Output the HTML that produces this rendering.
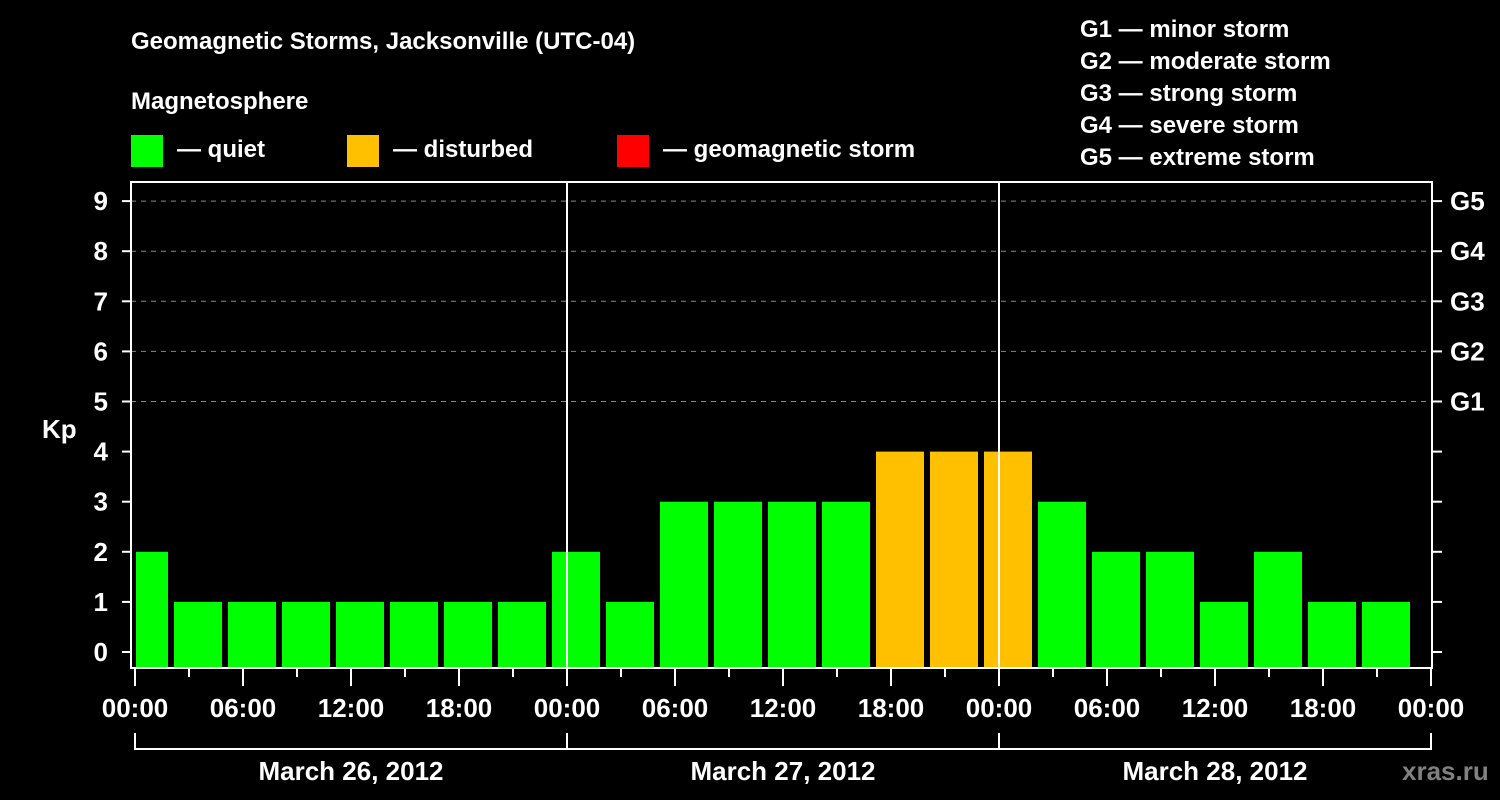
<!DOCTYPE html>
<html><head><meta charset="utf-8"><style>
html,body{margin:0;padding:0;background:#000;width:1500px;height:800px;overflow:hidden}
svg{display:block;font-family:"Liberation Sans",sans-serif;font-weight:bold}
</style></head><body>
<svg id="chart" width="1500" height="800" viewBox="0 0 1500 800">
<rect x="0" y="0" width="1500" height="800" fill="#000"/>
<text x="131" y="49" fill="#fff" font-size="24">Geomagnetic Storms, Jacksonville (UTC-04)</text>
<text x="131" y="109" fill="#fff" font-size="24">Magnetosphere</text>
<g><rect x="131" y="135" width="32" height="32" fill="#00ff00"/><text x="177" y="157" fill="#fff" font-size="24">— quiet</text></g>
<g><rect x="347" y="135" width="32" height="32" fill="#ffc000"/><text x="393" y="157" fill="#fff" font-size="24">— disturbed</text></g>
<g><rect x="617" y="135" width="32" height="32" fill="#ff0000"/><text x="663" y="157" fill="#fff" font-size="24">— geomagnetic storm</text></g>
<g fill="#fff" font-size="24">
<text x="1080" y="37">G1 — minor storm</text>
<text x="1080" y="69">G2 — moderate storm</text>
<text x="1080" y="101">G3 — strong storm</text>
<text x="1080" y="133">G4 — severe storm</text>
<text x="1080" y="165">G5 — extreme storm</text>
</g>
<text x="42" y="438" fill="#fff" font-size="26">Kp</text>
<text x="1402" y="780" fill="#808080" font-size="26">xras.ru</text>
<g id="grid"></g><g id="bars"></g><g id="axes"></g>
</svg>
<script>
const kpValues = [2,1,1,1,1,1,1,1,2,1,3,3,3,3,4,4,4,3,2,2,1,2,1,1];
const yTicks = [0,1,2,3,4,5,6,7,8,9];
const gLabels = ["G1","G2","G3","G4","G5"];
const xTickLabels = ["00:00","06:00","12:00","18:00","00:00","06:00","12:00","18:00","00:00","06:00","12:00","18:00","00:00"];
const dayLabels = ["March 26, 2012","March 27, 2012","March 28, 2012"];
const barStartHourOffset = -1;

const NS="http://www.w3.org/2000/svg";
const L=131,R=1432,T=182,B=668,X0=135,PXH=18;
const xS=h=>X0+h*PXH;
const yS=v=>652-v*50.1;
function mk(tag,attrs,parent,text){const e=document.createElementNS(NS,tag);for(const k in attrs)e.setAttribute(k,attrs[k]);if(text!==undefined)e.textContent=text;parent.appendChild(e);return e;}
const grid=document.getElementById('grid'),bars=document.getElementById('bars'),axes=document.getElementById('axes');

yTicks.forEach(v=>{
  if(v>=5){const g=mk('line',{x1:L,x2:R,y1:yS(v),y2:yS(v),stroke:'#888','stroke-width':1,'stroke-dasharray':'5,5'},grid);
  
  }
  const t=mk('line',{x1:122,x2:L,y1:yS(v),y2:yS(v),stroke:'#fff','stroke-width':2},axes);
  
  
  const lb=mk('text',{x:108,y:yS(v)+9,fill:'#fff','font-size':26,'text-anchor':'end'},axes,String(v));
  
  
  const rt=mk('line',{x1:R,x2:1442,y1:yS(v),y2:yS(v),stroke:'#fff','stroke-width':2},axes);
  
  
});
gLabels.forEach((g,i)=>{
  const t=mk('text',{x:1450,y:yS(i+5)+9,fill:'#fff','font-size':26},axes,g);
  
  
});

kpValues.forEach((v,i)=>{
  const h0=barStartHourOffset+3*i,h1=h0+3;
  let x0=xS(h0)+3,x1=xS(h1)-3;
  x0=Math.max(x0,X0+1);x1=Math.min(x1,R-1);
  if(x1<=x0)return;
  const col=v>=5?'#ff0000':(v>=4?'#ffc000':'#00ff00');
  const r=mk('rect',{x:x0,y:yS(v),width:x1-x0,height:B-1-yS(v),fill:col},bars);
  
  
});

[1,2].forEach(d=>{
  const l=mk('line',{x1:xS(24*d),x2:xS(24*d),y1:T,y2:B,stroke:'#fff','stroke-width':2},axes);
  
  
});
const fr=mk('rect',{x:L,y:T,width:R-L,height:B-T,fill:'none',stroke:'#fff','stroke-width':2},axes);



for(let h=0;h<=72;h+=3){
  const major=h%6===0;
  const t=mk('line',{x1:xS(h),x2:xS(h),y1:B,y2:major?686:677,stroke:'#fff','stroke-width':2},axes);
  
  
}
xTickLabels.forEach((s,i)=>{
  const t=mk('text',{x:xS(i*6),y:717,fill:'#fff','font-size':26,'text-anchor':'middle'},axes,s);
  
  
});
dayLabels.forEach((s,i)=>{
  const br=mk('path',{d:`M${xS(24*i)},733 V749 H${xS(24*(i+1))} V733`,fill:'none',stroke:'#fff','stroke-width':2},axes);
  
  
  const t=mk('text',{x:xS(24*i+12),y:780,fill:'#fff','font-size':26,'text-anchor':'middle'},axes,s);
  
  
});
</script>
</body></html>
